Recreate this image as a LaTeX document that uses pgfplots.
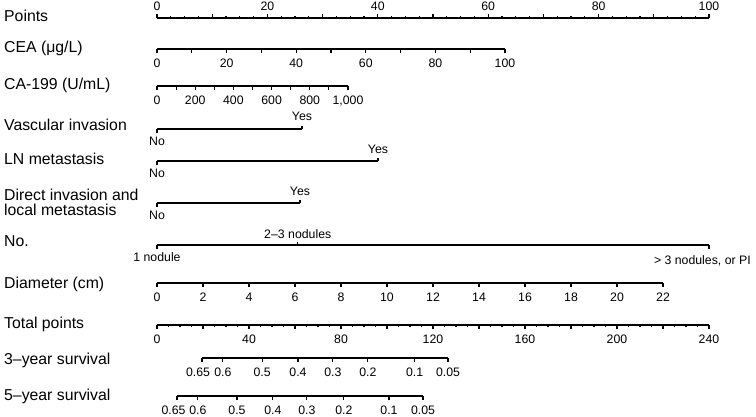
\documentclass[border=0pt]{standalone}
\usepackage{fontspec}
\setmainfont{Liberation Sans}
\usepackage{pgfplots}
\pgfplotsset{compat=1.18}

\newcommand\labfont{\fontsize{15.8}{18}\selectfont}
\newcommand\valfont{\fontsize{12.3}{14}\selectfont}

\pgfplotsset{
  nomo/.style={
    scale only axis, height=2pt, ymin=0, ymax=1,
    axis y line=none, axis x line=bottom,
    axis line style={-, line width=1.5pt},
    xtick align=outside,
    major tick length=3.5pt, minor tick length=3.5pt,
    tick style={black, line width=1.1pt},
    xticklabel style={font=\valfont, inner sep=1pt, yshift=-5pt},
    scaled x ticks=false,
    /pgf/number format/assume math mode=true,
    anchor=south west,
  },
}
\tikzset{
  lab/.style={font=\labfont, anchor=west, inner sep=0pt, text height=0.716em, text depth=0pt},
  val/.style={font=\valfont, inner sep=0pt, text height=0.716em, text depth=0pt},
}

\begin{document}
\begin{tikzpicture}
\useasboundingbox (0pt,0pt) rectangle (756pt,-416pt);

% frame in points units (x) and pixel rows (y, downwards)
\begin{axis}[
  at={(0pt,0pt)}, anchor=north west,
  scale only axis, width=756pt, height=416pt,
  xmin=-28.442, xmax=108.514, ymin=0, ymax=416, y dir=reverse,
  hide axis, clip=false,
]
% row labels
\node[lab] at (axis cs:-27.72,18) {Points};
\node[lab] at (axis cs:-27.72,49) {CEA (μg/L)};
\node[lab] at (axis cs:-27.72,86) {CA-199 (U/mL)};
\node[lab] at (axis cs:-27.72,127) {Vascular invasion};
\node[lab] at (axis cs:-27.72,161) {LN metastasis};
\node[lab] at (axis cs:-27.72,197) {Direct invasion and};
\node[lab] at (axis cs:-27.72,211.5) {local metastasis};
\node[lab] at (axis cs:-27.72,243) {No.};
\node[lab] at (axis cs:-27.72,285) {Diameter (cm)};
\node[lab] at (axis cs:-27.72,325) {Total points};
\node[lab] at (axis cs:-27.72,361) {3–year survival};
\node[lab] at (axis cs:-27.72,396.5) {5–year survival};

% Vascular invasion
\addplot[black, line width=1.5pt] coordinates {(0,129) (26.27,129)};
\addplot[black, line width=1.1pt] coordinates {(0,129) (0,132.5)};
\addplot[black, line width=1.1pt] coordinates {(26.27,129) (26.27,125.5)};
\node[val] at (axis cs:26.27,117) {Yes};
\node[val] at (axis cs:0,142) {No};

% LN metastasis
\addplot[black, line width=1.5pt] coordinates {(0,161) (40.04,161)};
\addplot[black, line width=1.1pt] coordinates {(0,161) (0,164.5)};
\addplot[black, line width=1.1pt] coordinates {(40.04,161) (40.04,157.5)};
\node[val] at (axis cs:40.04,150) {Yes};
\node[val] at (axis cs:0,174) {No};

% Direct invasion and local metastasis
\addplot[black, line width=1.5pt] coordinates {(0,203) (25.9,203)};
\addplot[black, line width=1.1pt] coordinates {(0,203) (0,206.5)};
\addplot[black, line width=1.1pt] coordinates {(25.9,203) (25.9,199.5)};
\node[val] at (axis cs:25.9,192) {Yes};
\node[val] at (axis cs:0,216) {No};

% No. of nodules
\addplot[black, line width=1.5pt] coordinates {(0,245) (100,245)};
\addplot[black, line width=1.1pt] coordinates {(0,245) (0,248.5)};
\addplot[black, line width=1.1pt] coordinates {(25.5,245) (25.5,241.5)};
\addplot[black, line width=1.1pt] coordinates {(100,245) (100,248.5)};
\node[val] at (axis cs:25.5,235) {2–3 nodules};
\node[val] at (axis cs:0,258) {1 nodule};
\node[val, anchor=east] at (axis cs:107.6,261) {> 3 nodules, or PI};
\end{axis}

% Points
\begin{axis}[nomo, at={(157pt,-18pt)}, anchor=north west, width=552pt,
  axis x line=top, axis line style={-, line width=1.5pt},
  xtick align=outside,
  xmin=0, xmax=100, xtick={0,20,...,100}, minor x tick num=7,
  extra x ticks={10,30,...,90}, extra x tick labels={},
  major tick length=4pt, minor tick length=2pt,
  xticklabel style={yshift=7pt}]
\end{axis}

% CEA
\begin{axis}[nomo, at={(157pt,-49pt)}, width=348pt,
  xmin=0, xmax=100, xtick={0,20,...,100}, minor x tick num=1]
\end{axis}

% CA-199
\begin{axis}[nomo, at={(157pt,-86pt)}, width=191pt,
  xmin=0, xmax=1000, xtick={0,200,...,1000}, minor x tick num=1,
  xticklabels={0,200,400,600,800,{1,000}}]
\end{axis}

% Diameter
\begin{axis}[nomo, at={(157pt,-283pt)}, width=506pt,
  xmin=0, xmax=22, xtick={0,2,...,22}]
\end{axis}

% Total points
\begin{axis}[nomo, at={(157pt,-325pt)}, width=552pt,
  xmin=0, xmax=240, xtick={0,40,...,240}, minor x tick num=7,
  extra x ticks={20,60,...,220}, extra x tick labels={},
  major tick length=3.5pt, minor tick length=2pt]
\end{axis}

% 3-year survival (total points scale)
\begin{axis}[nomo, at={(202pt,-358pt)}, width=246pt,
  xmin=19.6, xmax=126.5,
  xtick={19.6,28.7,45.7,61.3,76.5,91.7,112,126.5},
  xticklabels={{0.65\kern8pt},0.6,0.5,0.4,0.3,0.2,0.1,0.05}]
\end{axis}

% 5-year survival (total points scale)
\begin{axis}[nomo, at={(177pt,-396pt)}, width=246pt,
  xmin=8.7, xmax=115.7,
  xtick={8.7,17.8,34.8,50.4,65.2,81.3,100.9,115.7},
  xticklabels={{0.65\kern7pt},0.6,0.5,0.4,0.3,0.2,0.1,0.05}]
\end{axis}
\end{tikzpicture}
\end{document}
